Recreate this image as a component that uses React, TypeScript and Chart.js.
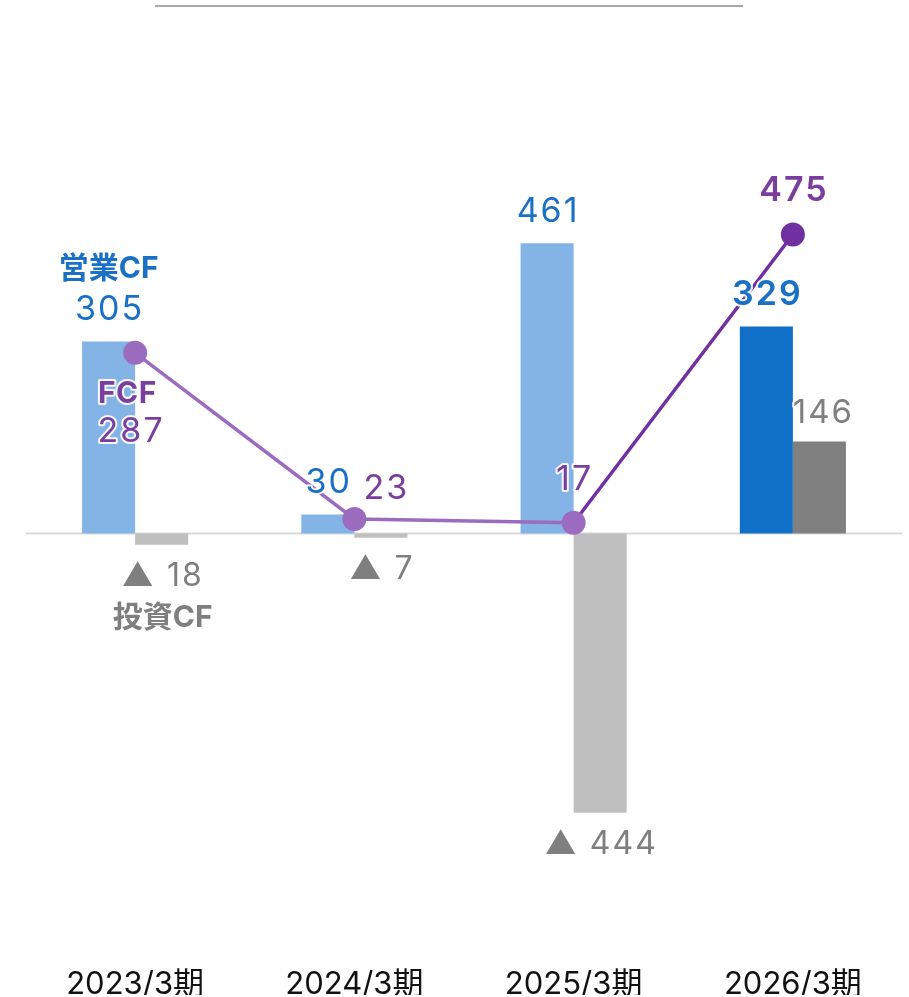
import React, { useEffect, useRef } from "react";
import { Chart, registerables } from "chart.js";

Chart.register(...registerables);

const categories = ["2023/3期", "2024/3期", "2025/3期", "2026/3期"];
const operatingCF = [305, 30, 461, 329];
const investingCF = [-18, -7, -444, 146];
const freeCF = [287, 23, 17, 475];

const opColors = ["#84B3E6", "#84B3E6", "#84B3E6", "#1070C8"];
const invColors = ["#BFBFBF", "#BFBFBF", "#BFBFBF", "#808080"];
const fcfPointColors = ["#9B6BBF", "#9B6BBF", "#9B6BBF", "#7030A0"];

const FONT = 'Inter, "Noto Sans CJK JP", sans-serif';
const BLUE = "#1A70C4";
const PURPLE = "#7A3E9E";
const GRAY = "#7F7F7F";

function fmt(v: number) {
  return v < 0 ? "▲ " + Math.abs(v) : String(v);
}

const labelPlugin = {
  id: "customLabels",
  beforeDatasetsDraw(chart: any) {
    const ctx = chart.ctx;
    const area = chart.chartArea;
    const y0 = chart.scales.y.getPixelForValue(0);
    ctx.save();
    ctx.strokeStyle = "#D9D9D9";
    ctx.lineWidth = 2;
    ctx.beginPath();
    ctx.moveTo(area.left, y0);
    ctx.lineTo(area.right, y0);
    ctx.stroke();
    ctx.restore();
  },
  afterDatasetsDraw(chart: any) {
    const ctx = chart.ctx;
    ctx.save();
    // top rule
    ctx.strokeStyle = "#8C8C8C";
    ctx.lineWidth = 1.5;
    ctx.beginPath();
    ctx.moveTo(155, 6);
    ctx.lineTo(743, 6);
    ctx.stroke();

    const text = (s: string, x: number, yy: number, color: string, size: number, weight: string, spacing = 1) => {
      ctx.font = `${weight} ${size}px ${FONT}`;
      (ctx as any).letterSpacing = spacing + "px";
      ctx.textAlign = "center";
      ctx.textBaseline = "middle";
      ctx.lineJoin = "round";
      ctx.strokeStyle = "rgba(255,255,255,0.9)";
      ctx.lineWidth = 4;
      ctx.strokeText(s, x + spacing / 2, yy);
      ctx.fillStyle = color;
      ctx.fillText(s, x + spacing / 2, yy);
    };

    const fcfMeta = chart.getDatasetMeta(0);
    const opMeta = chart.getDatasetMeta(1);
    const invMeta = chart.getDatasetMeta(2);

    opMeta.data.forEach((el: any, i: number) => {
      const last = i === categories.length - 1;
      text(fmt(operatingCF[i]), el.x, el.y - 31.5, BLUE, 34, last ? "600" : "400", 2);
      if (i === 0) text("営業CF", el.x, el.y - 73, BLUE, 30, "700", 0);
    });
    invMeta.data.forEach((el: any, i: number) => {
      const v = investingCF[i];
      if (v < 0) {
        text(fmt(v), el.x, el.y + 32, GRAY, 32, "400", 2);
        if (i === 0) text("投資CF", el.x + 1, el.y + 73, GRAY, 30, "700", 0);
      } else {
        text(fmt(v), el.x + 3, el.y - 28, GRAY, 33, "400", 2);
      }
    });
    const fcfOffsets = [
      [-5, 79],
      [31, -30],
      [0, -43],
      [0, -44],
    ];
    fcfMeta.data.forEach((el: any, i: number) => {
      const [dx, dy] = fcfOffsets[i];
      const last = i === categories.length - 1;
      text(String(freeCF[i]), el.x + dx, el.y + dy, PURPLE, 34, last ? "600" : "400", 2);
      if (i === 0) text("FCF", el.x - 8, el.y + 41, PURPLE, 30, "700", 0.5);
    });
    ctx.restore();
  },
};

export default function App() {
  const ref = useRef<HTMLCanvasElement>(null);
  useEffect(() => {
    if (!ref.current) return;
    const chart = new Chart(ref.current, {
      type: "bar",
      data: {
        labels: categories,
        datasets: [
          {
            type: "line",
            label: "FCF",
            data: freeCF,
            borderColor: "#9B6BBF",
            borderWidth: 3.5,
            pointRadius: 12,
            pointHoverRadius: 12,
            pointBackgroundColor: fcfPointColors,
            pointBorderColor: fcfPointColors,
            pointBorderWidth: 0,
            segment: {
              borderColor: (c: any) => (c.p1DataIndex === 3 ? "#7030A0" : "#9B6BBF"),
            },
            order: 0,
          } as any,
          {
            label: "営業CF",
            data: operatingCF,
            backgroundColor: opColors,
            barPercentage: 1,
            categoryPercentage: 0.484,
            order: 1,
          },
          {
            label: "投資CF",
            data: investingCF,
            backgroundColor: invColors,
            barPercentage: 1,
            categoryPercentage: 0.484,
            order: 1,
          },
        ],
      },
      options: {
        animation: false,
        responsive: false,
        events: [],
        layout: { autoPadding: false, padding: { left: 25.5, right: 6.5, top: 30, bottom: 2 } },
        plugins: { legend: { display: false }, tooltip: { enabled: false } },
        scales: {
          x: {
            grid: { display: false },
            border: { display: false },
            ticks: { color: "#111", font: { family: FONT, size: 31 }, padding: 25, maxRotation: 0, autoSkip: false },
            afterFit: (scale: any) => {
              scale.height = 62;
            },
          },
          y: {
            display: false,
            min: -635,
            max: 800,
          },
        },
      },
      plugins: [labelPlugin],
    });
    return () => chart.destroy();
  }, []);
  return (
    <div style={{ position: "absolute", left: 0, top: 0, width: 909, height: 997, background: "#fff" }}>
      <canvas ref={ref} width={909} height={997} style={{ width: 909, height: 997 }} />
    </div>
  );
}
